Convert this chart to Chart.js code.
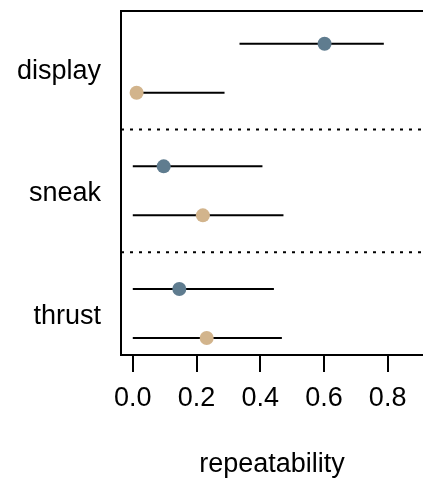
<!DOCTYPE html>
<html>
<head>
<meta charset="utf-8">
<script src="https://cdn.jsdelivr.net/npm/chart.js@4.4.0/dist/chart.umd.min.js"></script>
<style>
  html, body { margin: 0; padding: 0; background: #fff; }
  #repChart { display: block; }
</style>
</head>
<body>
<canvas id="repChart" width="423" height="478"></canvas>
<script>
// behaviours, top to bottom
const categories = ['display', 'sneak', 'thrust'];

// first (blue) estimate per behaviour, with interval
const blueEst = [0.602, 0.097, 0.146];
const blueLo  = [0.335, 0.0, 0.0];
const blueHi  = [0.788, 0.407, 0.443];

// second (tan) estimate per behaviour, with interval
const tanEst = [0.012, 0.220, 0.232];
const tanLo  = [0.0, 0.0, 0.0];
const tanHi  = [0.288, 0.473, 0.468];

const xTicks = [0.0, 0.2, 0.4, 0.6, 0.8];

const blueCol = '#5f7c8f';
const tanCol = '#d2b48c';
const xMin = -0.037, xMax = 0.911;

Chart.defaults.font.family = '"Liberation Sans", Arial, sans-serif';

// row layout: each group has two rows, groups separated by 1.5 units
function groupBase(i) { return 1 + (categories.length - 1 - i) * 2.5; }
function blueY(i) { return groupBase(i) + 1; }
function tanY(i) { return groupBase(i); }
function centerY(i) { return groupBase(i) + 0.5; }

const ctx = document.getElementById('repChart');

const datasets = [];
datasets.push({
  data: blueEst.map((v, i) => ({x: v, y: blueY(i)})),
  pointRadius: 7, pointBackgroundColor: blueCol, pointBorderWidth: 0, showLine: false
});
datasets.push({
  data: tanEst.map((v, i) => ({x: v, y: tanY(i)})),
  pointRadius: 7, pointBackgroundColor: tanCol, pointBorderWidth: 0, showLine: false
});
categories.forEach((c, i) => {
  datasets.push({ data: [{x: blueLo[i], y: blueY(i)}, {x: blueHi[i], y: blueY(i)}],
    showLine: true, pointRadius: 0, borderColor: '#000', borderWidth: 2 });
  datasets.push({ data: [{x: tanLo[i], y: tanY(i)}, {x: tanHi[i], y: tanY(i)}],
    showLine: true, pointRadius: 0, borderColor: '#000', borderWidth: 2 });
});
// dotted separators between groups
for (let i = 0; i < categories.length - 1; i++) {
  const y = groupBase(i) - 0.75;
  datasets.push({ data: [{x: xMin, y: y}, {x: xMax, y: y}],
    showLine: true, pointRadius: 0, borderColor: '#000', borderWidth: 2, borderDash: [3, 6] });
}

const topBorder = {
  id: 'topBorder',
  afterDraw(chart) {
    const a = chart.chartArea, c = chart.ctx;
    c.save();
    c.strokeStyle = '#000';
    c.lineWidth = 2;
    c.beginPath();
    c.moveTo(a.left - 1, a.top);
    c.lineTo(a.right, a.top);
    c.stroke();
    c.restore();
  }
};

new Chart(ctx, {
  type: 'scatter',
  data: { datasets: datasets },
  plugins: [topBorder],
  options: {
    responsive: false,
    animation: false,
    layout: { autoPadding: false, padding: { top: 11, right: 0, bottom: 0, left: 0 } },
    plugins: { legend: { display: false }, tooltip: { enabled: false } },
    scales: {
      x: {
        type: 'linear',
        min: xMin, max: xMax,
        afterBuildTicks: s => { s.ticks = xTicks.map(v => ({value: v})); },
        afterFit: s => { s.height = 123; s.paddingLeft = 0; s.paddingRight = 0; },
        ticks: {
          color: '#000', padding: 10,
          font: { size: 27 },
          callback: v => v.toFixed(1)
        },
        grid: { drawOnChartArea: false, drawTicks: true, tickLength: 17, color: '#000', lineWidth: 2 },
        border: { display: true, color: '#000', width: 2 },
        title: {
          display: true, text: 'repeatability', color: '#000',
          font: { size: 27 },
          padding: { top: 0, bottom: -3 }
        }
      },
      y: {
        type: 'linear',
        min: 0.653, max: 7.667,
        afterBuildTicks: s => { s.ticks = categories.map((c, i) => ({value: centerY(i)})); },
        afterFit: s => { s.width = 121; s.paddingTop = 0; s.paddingBottom = 0; },
        ticks: {
          color: '#000', padding: 20, labelOffset: 3,
          font: { size: 27 },
          callback: (v) => {
            const i = categories.findIndex((c, k) => Math.abs(centerY(k) - v) < 0.01);
            return i >= 0 ? categories[i] : '';
          }
        },
        grid: { display: false, drawTicks: false },
        border: { display: true, color: '#000', width: 2 }
      }
    }
  }
});
</script>
</body>
</html>
